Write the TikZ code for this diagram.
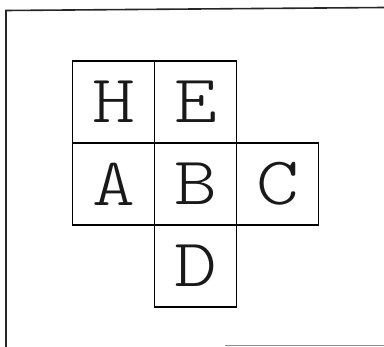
\documentclass[tikz,border=0pt]{standalone}
\usepackage{fontspec}
\newfontfamily\lightmono{Latin Modern Mono Light}
\newcommand{\cellletter}[1]{\scalebox{1.2}[1]{#1}}
\begin{document}
\begin{tikzpicture}[x=1pt,y=-1pt,
  cell/.style={draw=black,line width=1.1pt,minimum width=82pt,minimum height=82pt,inner sep=0pt,outer sep=0pt,
    font=\lightmono\fontsize{68}{68}\selectfont,text=black!90},
  frame/.style={line width=1.6pt,black!85}]
\useasboundingbox (0,0) rectangle (384,347);
\node[cell] (H) at (113.5,102) {\cellletter{H}};
\node[cell] (E) at (195.5,102) {\cellletter{E}};
\node[cell] (A) at (113.5,184) {\cellletter{A}};
\node[cell] (B) at (195.5,184) {\cellletter{B}};
\node[cell] (C) at (277.5,184) {\cellletter{C}};
\node[cell] (D) at (195.5,266) {\cellletter{D}};
\coordinate (tl) at (6,10.5);
\coordinate (tr) at (384,7.5);
\coordinate (bl) at (6,347);
\coordinate (b1) at (225,345.5);
\coordinate (b2) at (384,345.5);
\draw[frame] (bl) -- (tl) -- (tr);
\draw[line width=1.2pt,black!45] (b1) -- (b2);
\end{tikzpicture}
\end{document}
